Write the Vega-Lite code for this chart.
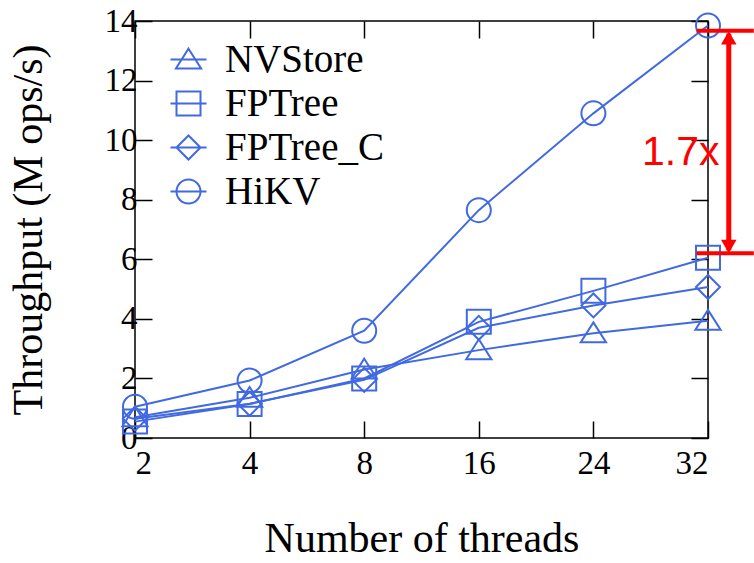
{
  "$schema": "https://vega.github.io/schema/vega-lite/v6.json",
  "width": 573,
  "height": 417,
  "autosize": {"type": "none"},
  "padding": {"left": 135, "top": 21, "right": 46, "bottom": 125},
  "background": "white",
  "config": {
    "view": {"stroke": "black", "strokeWidth": 1.5},
    "axis": {
      "grid": false,
      "domain": false,
      "tickColor": "black",
      "tickWidth": 1.5,
      "tickSize": -17,
      "labelFont": "Liberation Serif",
      "labelFontSize": 33,
      "labelColor": "black",
      "titleFont": "Liberation Serif",
      "titleFontSize": 42,
      "titleFontWeight": "normal",
      "titleColor": "black"
    },
    "legend": {
      "labelFont": "Liberation Serif",
      "labelFontSize": 39,
      "labelColor": "black"
    }
  },
  "datasets": {
    "perf": [
      {"threads": 2, "system": "NVStore", "tput": 0.7},
      {"threads": 4, "system": "NVStore", "tput": 1.35},
      {"threads": 8, "system": "NVStore", "tput": 2.3},
      {"threads": 16, "system": "NVStore", "tput": 2.95},
      {"threads": 24, "system": "NVStore", "tput": 3.52},
      {"threads": 32, "system": "NVStore", "tput": 3.94},
      {"threads": 2, "system": "FPTree", "tput": 0.55},
      {"threads": 4, "system": "FPTree", "tput": 1.14},
      {"threads": 8, "system": "FPTree", "tput": 2.0},
      {"threads": 16, "system": "FPTree", "tput": 3.9},
      {"threads": 24, "system": "FPTree", "tput": 4.94},
      {"threads": 32, "system": "FPTree", "tput": 6.05},
      {"threads": 2, "system": "FPTree_C", "tput": 0.65},
      {"threads": 4, "system": "FPTree_C", "tput": 1.15},
      {"threads": 8, "system": "FPTree_C", "tput": 1.95},
      {"threads": 16, "system": "FPTree_C", "tput": 3.7},
      {"threads": 24, "system": "FPTree_C", "tput": 4.45},
      {"threads": 32, "system": "FPTree_C", "tput": 5.07},
      {"threads": 2, "system": "HiKV", "tput": 1.05},
      {"threads": 4, "system": "HiKV", "tput": 1.93},
      {"threads": 8, "system": "HiKV", "tput": 3.6},
      {"threads": 16, "system": "HiKV", "tput": 7.65},
      {"threads": 24, "system": "HiKV", "tput": 10.9},
      {"threads": 32, "system": "HiKV", "tput": 13.85}
    ],
    "hlines": [
      {"y": 13.67, "x1": 31.2, "x2": 35.2},
      {"y": 6.2, "x1": 31.2, "x2": 35.2}
    ],
    "vline": [
      {"x": 33.45, "y1": 6.3, "y2": 13.57}
    ],
    "heads": [
      {"x": 33.45, "y": 13.44, "dir": "up"},
      {"x": 33.45, "y": 6.43, "dir": "down"}
    ],
    "label": [
      {"x": 30.1, "y": 9.56, "text": "1.7x"}
    ]
  },
  "layer": [
    {
      "data": {"name": "perf"},
      "mark": {"type": "line", "color": "#4169e1", "strokeWidth": 2},
      "encoding": {
        "x": {
          "field": "threads",
          "type": "quantitative",
          "scale": {"domain": [2, 4, 8, 16, 24, 32], "range": [0, 114.6, 229.2, 343.8, 458.4, 573], "zero": false, "nice": false},
          "axis": {"orient": "bottom", "values": [2, 4, 8, 16, 24, 32], "title": "Number of threads", "labelPadding": 26, "titlePadding": 38}
        },
        "y": {
          "field": "tput",
          "type": "quantitative",
          "scale": {"domain": [0, 14], "nice": false},
          "axis": {"orient": "left", "values": [0, 2, 4, 6, 8, 10, 12, 14], "title": "Throughput (M ops/s)", "labelPadding": 15, "titlePadding": 54}
        },
        "detail": {"field": "system"}
      }
    },
    {
      "data": {"name": "perf"},
      "mark": {"type": "point", "filled": false, "color": "#4169e1", "strokeWidth": 2, "size": 576, "opacity": 1},
      "encoding": {
        "x": {
          "field": "threads",
          "type": "quantitative",
          "axis": {"orient": "top", "values": [2, 4, 8, 16, 24, 32], "labels": false, "title": null}
        },
        "y": {
          "field": "tput",
          "type": "quantitative",
          "axis": {"orient": "right", "values": [0, 2, 4, 6, 8, 10, 12, 14], "labels": false, "title": null}
        },
        "shape": {
          "field": "system",
          "type": "nominal",
          "scale": {
            "domain": ["NVStore", "FPTree", "FPTree_C", "HiKV"],
            "range": ["M0,-0.9L1.05,0.75L-1.05,0.75Z", "square", "diamond", "circle"]
          },
          "legend": null
        }
      }
    },
    {
      "data": {"name": "perf"},
      "mark": {"type": "point", "filled": false, "color": "#4169e1", "strokeWidth": 2, "size": 576, "opacity": 0},
      "encoding": {
        "x": {"field": "threads", "type": "quantitative", "axis": null},
        "y": {"field": "tput", "type": "quantitative", "axis": null},
        "shape": {
          "field": "system",
          "type": "nominal",
          "scale": {
            "domain": ["NVStore", "FPTree", "FPTree_C", "HiKV"],
            "range": [
              "M-1.5,0H1.5M0,-0.9L1.05,0.75L-1.05,0.75Z",
              "M-1.5,0H1.5M-1,-1H1V1H-1Z",
              "M-1.5,0H1.5M-1,0L0,-1L1,0L0,1Z",
              "M-1.5,0H1.5M1,0A1,1,0,1,1,-1,0A1,1,0,1,1,1,0Z"
            ]
          },
          "legend": {
            "orient": "none",
            "legendX": 34,
            "legendY": 19,
            "title": null,
            "labelFont": "Liberation Serif",
            "labelFontSize": 39,
            "labelColor": "black",
            "labelOffset": 17,
            "rowPadding": 4,
            "symbolSize": 576,
            "symbolOpacity": 1,
            "symbolStrokeWidth": 2,
            "symbolStrokeColor": "#4169e1",
            "symbolFillColor": "transparent"
          }
        }
      }
    },
    {
      "data": {"name": "hlines"},
      "mark": {"type": "rule", "color": "#ff0000", "strokeWidth": 4},
      "encoding": {
        "x": {"field": "x1", "type": "quantitative", "axis": null},
        "x2": {"field": "x2"},
        "y": {"field": "y", "type": "quantitative", "axis": null}
      }
    },
    {
      "data": {"name": "vline"},
      "mark": {"type": "rule", "color": "#ff0000", "strokeWidth": 5},
      "encoding": {
        "x": {"field": "x", "type": "quantitative", "axis": null},
        "y": {"field": "y1", "type": "quantitative", "axis": null},
        "y2": {"field": "y2"}
      }
    },
    {
      "data": {"name": "heads"},
      "mark": {"type": "point", "filled": true, "color": "#ff0000", "size": 240, "opacity": 1},
      "encoding": {
        "x": {"field": "x", "type": "quantitative", "axis": null},
        "y": {"field": "y", "type": "quantitative", "axis": null},
        "shape": {"field": "dir", "type": "nominal", "scale": {"domain": ["up", "down"], "range": ["triangle-up", "triangle-down"]}, "legend": null}
      }
    },
    {
      "data": {"name": "label"},
      "mark": {"type": "text", "color": "#ff0000", "font": "Liberation Sans", "fontSize": 41, "align": "center", "baseline": "middle"},
      "encoding": {
        "x": {"field": "x", "type": "quantitative", "axis": null},
        "y": {"field": "y", "type": "quantitative", "axis": null},
        "text": {"field": "text"}
      }
    }
  ],
  "resolve": {"axis": {"x": "independent", "y": "independent"}, "scale": {"shape": "independent"}}
}
